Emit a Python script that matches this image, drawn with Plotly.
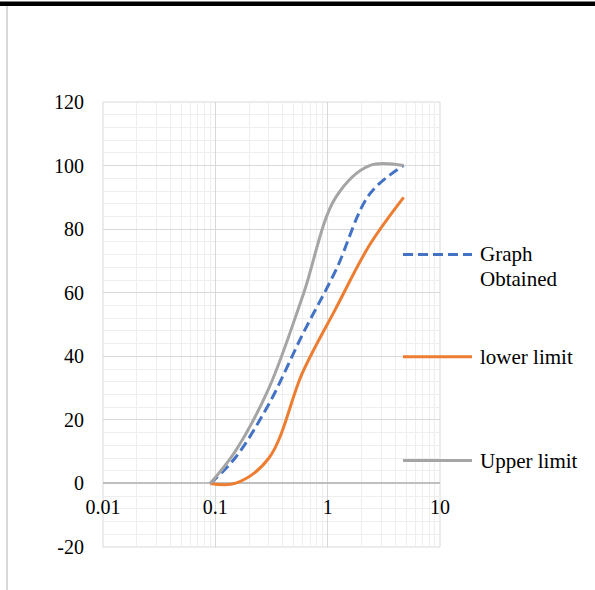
import plotly.graph_objects as go

# ---- data ----
sieve_mm = [0.09, 0.15, 0.3, 0.6, 1.18, 2.36, 4.75]
graph_obtained = [0, 8, 25, 47, 67, 91, 100]
lower_limit = [0, 0, 8, 35, 55, 75, 90]
upper_limit = [0, 10, 30, 59, 90, 100, 100]
series_names = ["Graph Obtained", "lower limit", "Upper limit"]
x_ticks = [0.01, 0.1, 1, 10]
x_tick_labels = ["0.01", "0.1", "1", "10"]
y_ticks = [-20, 0, 20, 40, 60, 80, 100, 120]
y_tick_labels = ["-20", "0", "20", "40", "60", "80", "100", "120"]

W, H = 595, 590
L, R, T, B = 103, 440, 102, 547  # plot area in pixels
FONT = "Liberation Serif"


def px(x):
    return (x - L) / (R - L)


def py(y):
    return (B - y) / (B - T)


colors = ["#4472C4", "#ED7D31", "#A5A5A5"]
dashes = ["10px,5px", "solid", "solid"]
series = [graph_obtained, lower_limit, upper_limit]

fig = go.Figure()
for name, ys, c, d in zip(series_names, series, colors, dashes):
    fig.add_trace(go.Scatter(
        x=sieve_mm, y=ys, mode="lines", name=name,
        line=dict(color=c, width=3, dash=d, shape="spline", smoothing=1),
        showlegend=False,
    ))

fig.update_layout(
    width=W, height=H,
    margin=dict(l=L, r=W - R, t=T, b=H - B),
    paper_bgcolor="white", plot_bgcolor="white",
    font=dict(family=FONT, size=20, color="#000000"),
    xaxis=dict(
        type="log", range=[-2, 1],
        tickvals=x_ticks, ticktext=x_tick_labels,
        showgrid=True, gridcolor="#d9d9d9", gridwidth=1,
        minor=dict(dtick="D1", showgrid=True, gridcolor="#eeeeee", gridwidth=1),
        zeroline=False, showline=False, ticks="",
        anchor="free", position=py(483.4),
        ticklabelstandoff=10,
        tickfont=dict(family=FONT, size=20),
    ),
    yaxis=dict(
        range=[-20, 120],
        tickvals=y_ticks, ticktext=y_tick_labels,
        showgrid=True, gridcolor="#d9d9d9", gridwidth=1,
        minor=dict(dtick=4, showgrid=True, gridcolor="#eeeeee", gridwidth=1),
        zeroline=True, zerolinecolor="#bfbfbf", zerolinewidth=2,
        showline=False, ticks="",
        ticklabelstandoff=18,
        tickfont=dict(family=FONT, size=20),
    ),
    showlegend=False,
)

shapes = [
    # plot area border
    dict(type="rect", xref="paper", yref="paper", x0=0, x1=1, y0=0, y1=1,
         line=dict(color="#d9d9d9", width=1), layer="below"),
    # top black rule of the page
    dict(type="rect", xref="paper", yref="paper", x0=px(0), x1=px(W),
         y0=py(6), y1=py(1.5), line=dict(width=0), fillcolor="#000000"),
    # left page rule
    dict(type="line", xref="paper", yref="paper", x0=px(7), x1=px(7),
         y0=py(6), y1=py(590), line=dict(color="#d9d9d9", width=2)),
]
# custom legend
legend_y = [254.5, 356.7, 460.5]
for c, d, yy in zip(colors, dashes, legend_y):
    shapes.append(dict(type="line", xref="paper", yref="paper",
                       x0=px(403), x1=px(472), y0=py(yy), y1=py(yy),
                       line=dict(color=c, width=3, dash=d)))
fig.update_layout(shapes=shapes)

legend_text = [("Graph", 254.5), ("Obtained", 279), (series_names[1], 356.7), (series_names[2], 460.5)]
for t, yy in legend_text:
    fig.add_annotation(text=t, xref="paper", yref="paper", x=px(478), y=py(yy),
                       xanchor="left", yanchor="middle", showarrow=False,
                       font=dict(family=FONT, size=21, color="#000000"))

fig.write_html("out.html", config={"displayModeBar": False},
               post_script="document.body.style.margin='0';")
